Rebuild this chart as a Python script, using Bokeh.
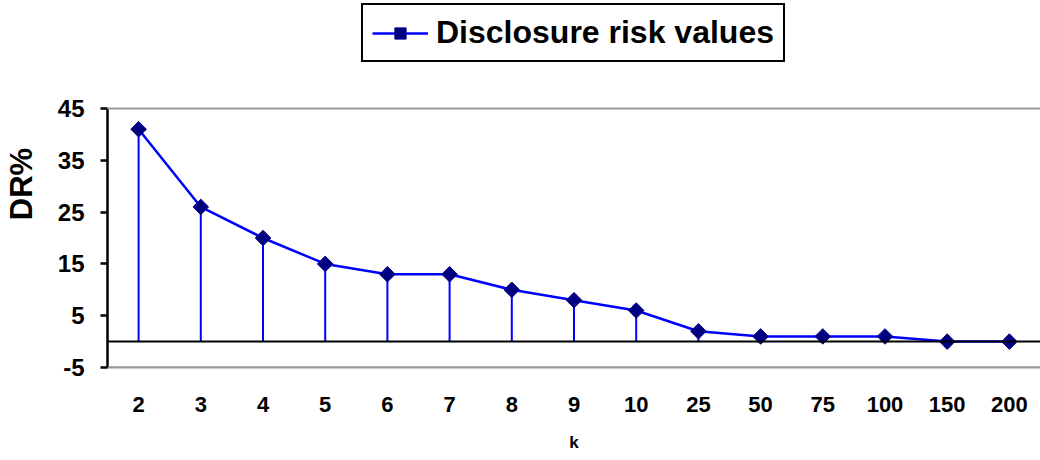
import math
from bokeh.plotting import figure
from bokeh.models import ColumnDataSource, FixedTicker, Span, Legend, LegendItem
from bokeh.embed import file_html
from bokeh.resources import INLINE

k_values = ["2", "3", "4", "5", "6", "7", "8", "9", "10", "25", "50", "75", "100", "150", "200"]
dr_values = [41, 26, 20, 15, 13, 13, 10, 8, 6, 2, 1, 1, 1, 0, 0]
y_ticks = [-5, 5, 15, 25, 35, 45]
series_name = "Disclosure risk values"

FONT = "Liberation Sans"

src = ColumnDataSource(dict(k=k_values, dr=dr_values, base=[0] * len(dr_values)))

# frame spans the full height; the axis itself is bounded to -5..45,
# the space above 45 holds the legend
p = figure(x_range=k_values, y_range=(-5, 65.85), width=1040, height=460,
           output_backend="svg", toolbar_location=None,
           min_border_left=106, min_border_right=0, min_border_top=0, min_border_bottom=93)
p.title.visible = False
p.outline_line_color = None
p.background_fill_color = "white"
p.border_fill_color = "white"
p.xgrid.grid_line_color = None
p.ygrid.grid_line_color = None

p.add_layout(Span(location=45, dimension="width", line_color="#999999", line_width=2))
p.add_layout(Span(location=-5, dimension="width", line_color="#999999", line_width=2))
p.add_layout(Span(location=0, dimension="width", line_color="black", line_width=2))

p.segment(x0="k", y0="base", x1="k", y1="dr", source=src, line_color="#0000FF", line_width=2)
ln = p.line(x="k", y="dr", source=src, line_color="#0000FF", line_width=2.5)
mk = p.scatter(x="k", y="dr", source=src, marker="square", size=11, angle=math.pi / 4,
               fill_color="#000080", line_color="#000080")

ya = p.yaxis[0]
ya.ticker = FixedTicker(ticks=y_ticks)
ya.bounds = (-5, 45)
ya.major_label_overrides = {t: str(t) for t in y_ticks}
ya.axis_line_color = "black"
ya.axis_line_width = 2.5
ya.major_tick_line_color = "black"
ya.major_tick_line_width = 2.5
ya.major_tick_out = 7
ya.major_tick_in = 0
ya.minor_tick_line_color = None
ya.major_label_text_font = FONT
ya.major_label_text_font_style = "bold"
ya.major_label_text_font_size = "24px"
ya.major_label_text_color = "black"
ya.major_label_standoff = 16
ya.axis_label = "DR%"
ya.axis_label_text_font = FONT
ya.axis_label_text_font_style = "bold"
ya.axis_label_text_font_size = "31px"
ya.axis_label_text_color = "black"
ya.axis_label_standoff = 16

xa = p.xaxis[0]
xa.axis_line_color = "#999999"
xa.axis_line_width = 2
xa.major_tick_line_color = None
xa.minor_tick_line_color = None
xa.major_label_text_font = FONT
xa.major_label_text_font_style = "bold"
xa.major_label_text_font_size = "22px"
xa.major_label_text_color = "black"
xa.major_label_standoff = 23
xa.axis_label = "k"
xa.axis_label_text_font = FONT
xa.axis_label_text_font_style = "bold"
xa.axis_label_text_font_size = "17px"
xa.axis_label_text_color = "black"
xa.axis_label_standoff = 18

legend = Legend(items=[LegendItem(label=series_name, renderers=[ln, mk])],
                location=(254, 305), orientation="horizontal")
legend.label_text_font = FONT
legend.label_text_font_style = "bold"
legend.label_text_font_size = "32px"
legend.label_text_color = "black"
legend.border_line_color = "black"
legend.border_line_alpha = 1.0
legend.border_line_width = 2
legend.background_fill_alpha = 1.0
legend.glyph_width = 56
legend.glyph_height = 28
legend.label_height = 30
legend.label_standoff = 8
legend.padding = 9
legend.margin = 0
p.add_layout(legend, "center")

open("out.html", "w").write(file_html(p, INLINE))
